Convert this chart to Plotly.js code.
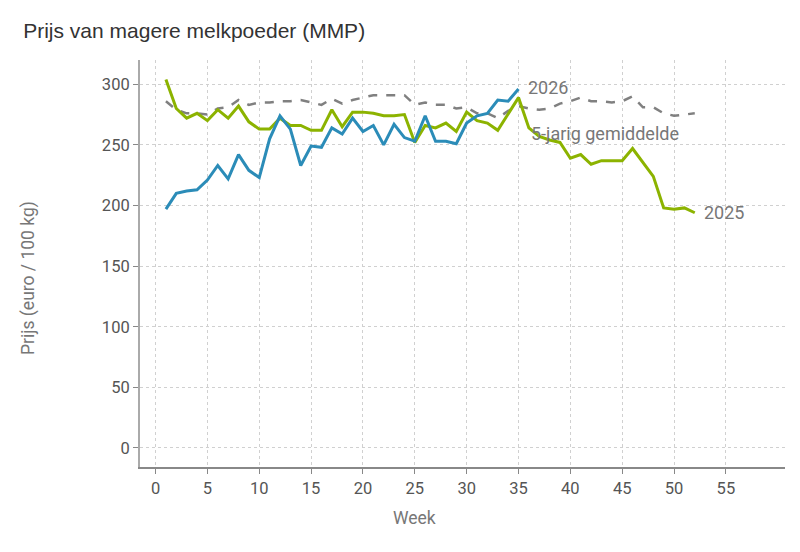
<!DOCTYPE html>
<html>
<head>
<meta charset="utf-8">
<script src="https://cdn.plot.ly/plotly-3.0.1.min.js"></script>
<style>
  html, body { margin: 0; padding: 0; background: #fff; }
  #chart { width: 800px; height: 552px; }
</style>
</head>
<body>
<div id="chart"></div>
<script>
// Weekly prices, euro / 100 kg
const weeks2025 = Array.from({ length: 52 }, (_, i) => i + 1);
const prices2025 = [
  304, 280, 272, 276, 270, 279, 272, 282, 269, 263,
  263, 272, 266, 266, 262, 262, 279, 265, 277, 277,
  276, 274, 274, 275, 252, 266, 264, 268, 261, 277,
  270, 268, 262, 276, 289, 264, 257, 254, 252, 239,
  242, 234, 237, 237, 237, 247, 236, 224, 198, 197,
  198, 194
];

const weeks2026 = Array.from({ length: 35 }, (_, i) => i + 1);
const prices2026 = [
  197, 210, 212, 213, 221, 233, 222, 242, 229, 223,
  255, 274, 263, 233, 249, 248, 264, 259, 272, 261,
  266, 250, 267, 256, 253, 274, 253, 253, 251, 268,
  274, 276, 287, 286, 296
];

const weeksAvg = Array.from({ length: 52 }, (_, i) => i + 1);
const pricesAvg = [
  286, 279, 276, 276, 275, 280, 281, 287, 283, 285,
  285, 286, 286, 287, 285, 283, 288, 284, 287, 289,
  291, 291, 291, 291, 283, 285, 283, 283, 280, 281,
  276, 276, 272, 278, 282, 280, 279, 280, 284, 286,
  289, 286, 286, 285, 286, 290, 281, 281, 276, 274,
  275, 276
];

const xTicks = [0, 5, 10, 15, 20, 25, 30, 35, 40, 45, 50, 55];
const yTicks = [0, 50, 100, 150, 200, 250, 300];

const labelColor = "#777777";

const traces = [
  {
    x: weeksAvg,
    y: pricesAvg,
    name: "5-jarig gemiddelde",
    mode: "lines",
    line: { color: "#808080", width: 2.5, dash: "dash" },
  },
  {
    x: weeks2025,
    y: prices2025,
    name: "2025",
    mode: "lines",
    line: { color: "#8cb300", width: 3 },
  },
  {
    x: weeks2026,
    y: prices2026,
    name: "2026",
    mode: "lines",
    line: { color: "#2b8cb8", width: 3 },
  },
];

const layout = {
  width: 800,
  height: 552,
  margin: { l: 140, r: 15, t: 60, b: 85 },
  paper_bgcolor: "#ffffff",
  plot_bgcolor: "#ffffff",
  showlegend: false,
  font: { family: "Roboto, sans-serif", size: 16, color: "#555555" },
  title: {
    text: "Prijs van magere melkpoeder (MMP)",
    x: 0.029,
    xanchor: "left",
    y: 0.945,
    yanchor: "middle",
    font: { family: "Liberation Sans, Arial, sans-serif", size: 21, color: "#333333" },
  },
  xaxis: {
    range: [-1.5, 60.7],
    tickvals: xTicks,
    zeroline: false,
    showline: true,
    linecolor: "#888888",
    linewidth: 1.5,
    ticks: "outside",
    ticklen: 5,
    tickcolor: "#888888",
    showgrid: true,
    gridcolor: "#d0d0d0",
    griddash: "dot",
    tickfont: { size: 16.5, color: "#555555" },
  },
  yaxis: {
    range: [-15.7, 320],
    tickvals: yTicks,
    zeroline: false,
    showline: true,
    linecolor: "#aaaaaa",
    linewidth: 2,
    ticks: "outside",
    ticklen: 5,
    tickcolor: "#888888",
    showgrid: true,
    gridcolor: "#d0d0d0",
    griddash: "dot",
    tickfont: { size: 16.5, color: "#555555" },
  },
  annotations: [
    // axis titles (placed off-centre like the original)
    {
      xref: "paper",
      yref: "paper",
      x: 0.426,
      y: -0.125,
      text: "Week",
      showarrow: false,
      xanchor: "center",
      yanchor: "middle",
      font: { size: 17.5, color: labelColor },
    },
    {
      xref: "paper",
      yref: "paper",
      x: -0.174,
      y: 0.464,
      text: "Prijs (euro / 100 kg)",
      textangle: -90,
      showarrow: false,
      xanchor: "center",
      yanchor: "middle",
      font: { size: 17.5, color: labelColor },
    },
    // series labels
    {
      x: weeks2026[weeks2026.length - 1],
      y: prices2026[prices2026.length - 1],
      text: "2026",
      showarrow: false,
      xanchor: "left",
      yanchor: "middle",
      xshift: 7,
      yshift: 2,
      font: { size: 18, color: labelColor },
    },
    {
      x: 36,
      y: 259,
      text: "5-jarig gemiddelde",
      showarrow: false,
      xanchor: "left",
      yanchor: "middle",
      font: { size: 18, color: labelColor },
    },
    {
      x: weeks2025[weeks2025.length - 1],
      y: prices2025[prices2025.length - 1],
      text: "2025",
      showarrow: false,
      xanchor: "left",
      yanchor: "middle",
      xshift: 7,
      yshift: 0,
      font: { size: 18, color: labelColor },
    },
  ],
};

Plotly.newPlot("chart", traces, layout, { displayModeBar: false });
</script>
</body>
</html>
